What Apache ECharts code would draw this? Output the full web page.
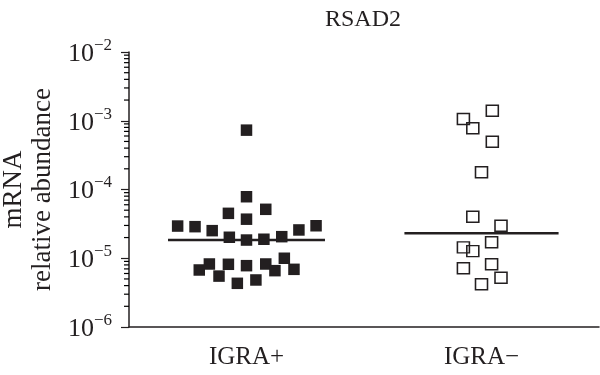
<!DOCTYPE html>
<html><head><meta charset="utf-8">
<script src="https://cdn.jsdelivr.net/npm/echarts@6/dist/echarts.min.js"></script>
<style>html,body{margin:0;padding:0;background:#fff}#c{width:600px;height:375px}</style>
</head><body><div id="c"></div>
<script>
const categories = ['IGRA+', 'IGRA\u2212'];
const titleText = 'RSAD2';
const yAxisName = 'mRNA\nrelative abundance';
const yMin = 1e-6, yMax = 1e-2;

// IGRA+ values and horizontal jitter (in category units)
const igraPosValues = [7.3e-4, 7.85e-5, 4.5e-5, 5.15e-5, 3.7e-5, 2.94e-5, 2.88e-5, 2.52e-5, 2.02e-5, 1.84e-5, 1.89e-5, 2.06e-5, 2.58e-5, 2.97e-5,
  8.25e-6, 6.75e-6, 5.5e-6, 8.17e-6, 7.8e-6, 4.32e-6, 4.83e-6, 8.25e-6, 6.6e-6, 1.0e-5, 6.9e-6];
const igraPosJitter = [0, 0, -0.077, 0.082, 0, -0.293, -0.219, -0.146, -0.073, 0, 0.074, 0.150, 0.223, 0.296,
  -0.158, -0.201, -0.117, -0.077, 0, -0.039, 0.040, 0.082, 0.121, 0.161, 0.202];

// IGRA- values and jitter
const igraNegValues = [1.40e-3, 1.06e-3, 7.77e-4, 4.96e-4, 1.78e-4, 4.02e-5, 2.97e-5, 1.71e-5, 1.44e-5, 1.27e-5, 7.14e-6, 8.17e-6, 5.21e-6, 4.18e-6];
const igraNegJitter = [0.046, -0.077, -0.037, 0.046, 0, -0.037, 0.083, 0.043, -0.077, -0.037, -0.077, 0.043, 0.083, 0];

const medians = [1.84e-5, 2.31e-5];
const medianHalfWidth = [0.334, 0.328];

const ink = '#231f20';
const serif = 'Liberation Serif';

// minor tick values at 2..9 x 10^n
const minorTickValues = [];
for (let e = -6; e < -2; e++) for (let k = 2; k <= 9; k++) minorTickValues.push(k * Math.pow(10, e));

function pts(vals, jit, idx) { return vals.map((v, i) => [idx + 0.5 + jit[i], v]); }

const chart = echarts.init(document.getElementById('c'), null, {renderer: 'canvas'});
chart.setOption({
  animation: false,
  backgroundColor: '#fff',
  title: {text: titleText, left: 358, top: 3, textAlign: 'center',
    textStyle: {fontFamily: serif, fontSize: 24, fontWeight: 'normal', color: ink}},
  grid: {left: 129, right: 1, top: 52, bottom: 48, containLabel: false, outerBoundsMode: 'none'},
  xAxis: [
    {type: 'category', data: categories, boundaryGap: true,
      axisLine: {lineStyle: {color: ink, width: 1.5}},
      axisTick: {alignWithLabel: true, length: 7, lineStyle: {color: ink, width: 1.2}},
      axisLabel: {color: ink, fontFamily: serif, fontSize: 25, margin: 18},
      splitLine: {show: false}},
    {type: 'value', min: 0, max: 2, show: false}
  ],
  yAxis: [
    {type: 'log', logBase: 10, min: yMin, max: yMax, position: 'left',
      name: yAxisName, nameLocation: 'middle', nameRotate: 90, nameGap: 68,
      nameTextStyle: {fontFamily: serif, fontSize: 27, color: ink, lineHeight: 29},
      axisLine: {show: true, lineStyle: {color: ink, width: 1.5}},
      axisTick: {show: true, length: 8, lineStyle: {color: ink, width: 1.2}},
      splitLine: {show: false},
      axisLabel: {margin: 17, color: ink,
        formatter: function (v) {
          const e = Math.round(Math.log10(v));
          return '{b|10}{s|' + String(e).replace('-', '\u2212') + '}';
        },
        rich: {
          b: {fontFamily: serif, fontSize: 26, color: ink, lineHeight: 30, verticalAlign: 'bottom'},
          s: {fontFamily: serif, fontSize: 17, color: ink, lineHeight: 17, verticalAlign: 'top'}
        }}}
  ],
  series: [
    {type: 'scatter', xAxisIndex: 1, yAxisIndex: 0, symbol: 'rect', symbolSize: 11.5,
      itemStyle: {color: ink, opacity: 1}, data: pts(igraPosValues, igraPosJitter, 0)},
    {type: 'scatter', xAxisIndex: 1, yAxisIndex: 0, symbol: 'rect', symbolSize: [12, 11],
      itemStyle: {color: 'rgba(0,0,0,0)', borderColor: ink, borderWidth: 1.5, opacity: 1},
      data: pts(igraNegValues, igraNegJitter, 1)},
    {type: 'line', xAxisIndex: 1, yAxisIndex: 0, symbol: 'none',
      lineStyle: {color: ink, width: 2.6},
      data: [[0.5 - medianHalfWidth[0], medians[0]], [0.5 + medianHalfWidth[0], medians[0]]]},
    {type: 'line', xAxisIndex: 1, yAxisIndex: 0, symbol: 'none',
      lineStyle: {color: ink, width: 2.6},
      data: [[1.5 - medianHalfWidth[1], medians[1]], [1.5 + medianHalfWidth[1], medians[1]]]},
    {type: 'scatter', xAxisIndex: 1, yAxisIndex: 0, clip: false,
      symbol: 'rect', symbolSize: [5, 1.2], symbolOffset: [-2.5, 0],
      itemStyle: {color: '#000', opacity: 1},
      data: minorTickValues.map(v => [0, v])}
  ]
});
chart.setOption({graphic: [{type: 'text', left: 0, top: 0, silent: true, style: {text: '', fontSize: 1}}]});
</script></body></html>
